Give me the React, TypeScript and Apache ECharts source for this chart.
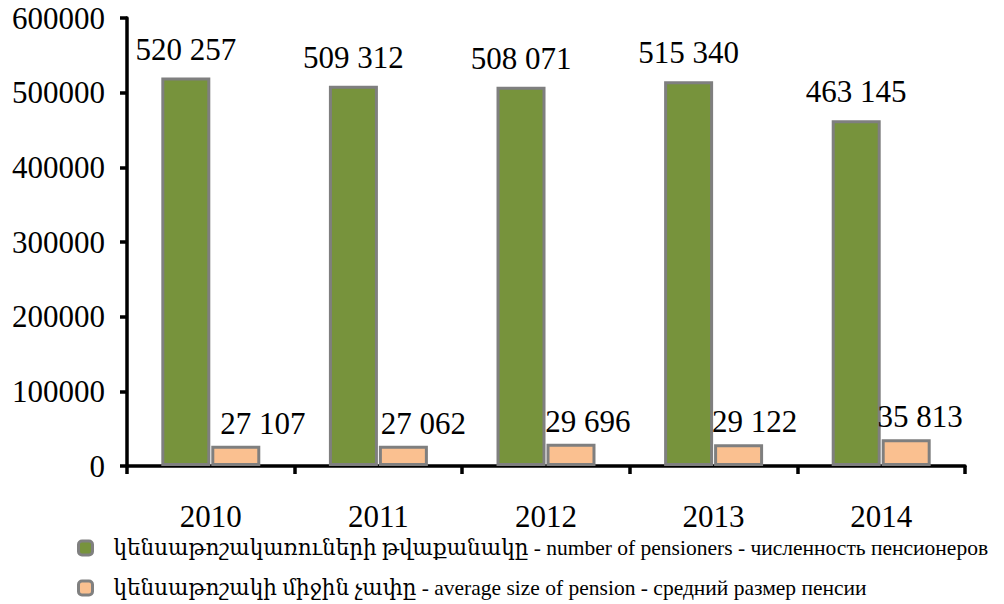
import React, { useEffect, useRef } from "react";
import * as echarts from "echarts";

const years = ["2010", "2011", "2012", "2013", "2014"];
const pensioners = [520257, 509312, 508071, 515340, 463145];
const avgPension = [27107, 27062, 29696, 29122, 35813];
const seriesNames = [
  "կենսաթոշակառուների թվաքանակը - number of pensioners - численность пенсионеров",
  "կենսաթոշակի միջին չափը - average size of pension - средний размер пенсии",
];
const seriesColors = ["#77933c", "#fac090"];
const orangeLabelDx = [27, 20, 17, 16, 14];

const fmt = (v: number) => String(v).replace(/\B(?=(\d{3})+(?!\d))/g, " ");
const FONT = "Liberation Serif, DejaVu Serif, serif";
const FS = 31;

export default function App() {
  const ref = useRef<HTMLDivElement>(null);
  useEffect(() => {
    if (!ref.current) return;
    const chart = echarts.init(ref.current, undefined, { renderer: "svg" });
    const border = { borderColor: "#7f7f7f", borderWidth: 3 };
    const labelStyle = {
      show: true,
      position: "top",
      color: "#000",
      fontSize: FS,
      fontFamily: FONT,
      formatter: (p: any) => fmt(p.value),
    };
    const legendBase = {
      orient: "horizontal",
      left: 72,
      padding: 5,
      itemWidth: 14,
      itemHeight: 14,
      icon: "roundRect",
      textStyle: {
        fontFamily: FONT,
        fontSize: 21.5,
        color: "#000",
        padding: [0, 0, 0, 16],
      },
    };
    const legendItem = (i: number) => ({
      name: seriesNames[i],
      itemStyle: { color: seriesColors[i], borderColor: "#808080", borderWidth: 3 },
    });
    chart.setOption({
      animation: false,
      backgroundColor: "#ffffff",
      textStyle: { fontFamily: FONT },
      grid: { left: 127, right: 39, top: 18, bottom: 138, containLabel: false },
      legend: [
        { ...legendBase, top: 532, data: [legendItem(0)] },
        { ...legendBase, top: 572, data: [legendItem(1)] },
      ],
      xAxis: {
        type: "category",
        data: years,
        axisLine: { lineStyle: { color: "#000", width: 3.5 } },
        axisTick: { show: true, length: 8, lineStyle: { color: "#000", width: 3.5 } },
        axisLabel: { color: "#000", fontSize: FS, fontFamily: FONT, margin: 35 },
      },
      yAxis: {
        type: "value",
        min: 0,
        max: 600000,
        interval: 100000,
        splitLine: { show: false },
        axisLine: { show: true, lineStyle: { color: "#000", width: 3.5 } },
        axisTick: { show: true, length: 7, lineStyle: { color: "#000", width: 3.5 } },
        axisLabel: {
          color: "#000",
          fontSize: FS,
          fontFamily: FONT,
          margin: 22,
          formatter: (v: number) => String(v),
        },
      },
      series: [
        {
          name: seriesNames[0],
          type: "bar",
          data: pensioners,
          barWidth: 49,
          barGap: "2%",
          itemStyle: { color: seriesColors[0], ...border },
          label: { ...labelStyle, distance: 13 },
        },
        {
          name: seriesNames[1],
          type: "bar",
          data: avgPension.map((v, i) => ({
            value: v,
            label: { offset: [orangeLabelDx[i], 0] },
          })),
          barWidth: 49,
          itemStyle: { color: seriesColors[1], ...border },
          label: { ...labelStyle, distance: 7 },
        },
      ],
    });
    return () => chart.dispose();
  }, []);
  return <div ref={ref} style={{ width: 1004, height: 604, position: "absolute", left: 0, top: 0 }} />;
}
